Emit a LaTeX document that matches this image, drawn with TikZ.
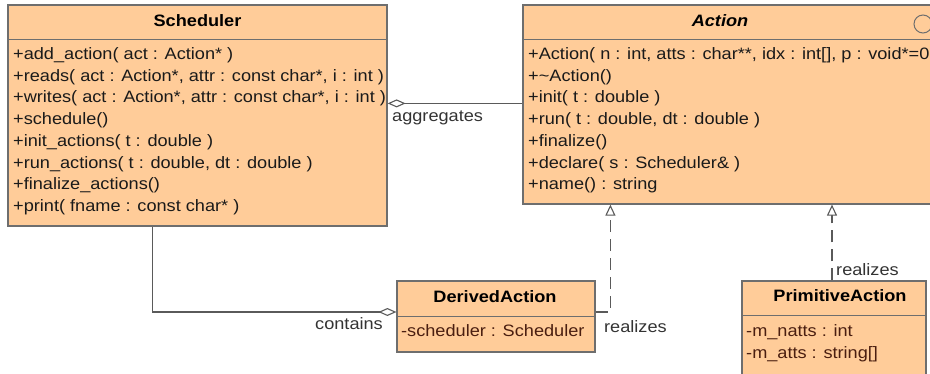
\documentclass[tikz,border=0pt]{standalone}
\usepackage{fontspec}
\setmainfont{Liberation Sans}[FakeStretch=1.1]
\usetikzlibrary{arrows.meta}
\definecolor{classfill}{HTML}{FFCC99}
\definecolor{classline}{HTML}{6E6E6E}
\definecolor{connline}{HTML}{5A5A5A}
\definecolor{optext}{HTML}{1A1A1A}
\definecolor{attrtext}{HTML}{4A1E10}
\definecolor{labeltext}{HTML}{333333}
\begin{document}
\begin{tikzpicture}[x=1pt,y=-1pt,
  classbox/.style={draw=classline, fill=classfill, line width=1.2pt, inner sep=0pt},
  divider/.style={draw=classline, line width=1.2pt},
  basefont/.style={font=\fontsize{16.5}{20}\selectfont},
  titletext/.style={basefont, font=\fontsize{16.5}{20}\selectfont\bfseries, text=black, anchor=base, inner sep=0pt},
  optxt/.style={basefont, text=optext, anchor=base west, inner sep=0pt},
  attrtxt/.style={basefont, text=attrtext, anchor=base west, inner sep=0pt},
  lbl/.style={basefont, text=labeltext, anchor=base west, inner sep=0pt},
  conn/.style={draw=connline, line width=1.1pt},
  aggtip/.style={-{Diamond[open, length=18pt, width=8pt, line width=1.1pt]}},
  realtip/.style={-{Triangle[open, length=11pt, width=10pt, line width=1.1pt, fill=white]}},
  realline/.style={conn, dash pattern=on 12pt off 7pt, realtip}
]
\useasboundingbox (0,0) rectangle (930,373);

% class boxes
\node[classbox, minimum width=379pt, minimum height=221pt] (sched) at (197.5,115.5) {};
\node[classbox, minimum width=417pt, minimum height=199pt] (action) at (731.5,104.5) {};
\node[classbox, minimum width=198pt, minimum height=71pt] (derived) at (496,316.5) {};
\node[classbox, minimum width=184pt, minimum height=114pt] (prim) at (834,338) {};

% compartment dividers
\draw[divider] ([yshift=-35pt]sched.north west) -- ([yshift=-35pt]sched.north east);
\draw[divider] ([yshift=-35pt]action.north west) -- ([yshift=-35pt]action.north east);
\draw[divider] ([yshift=-36pt]derived.north west) -- ([yshift=-36pt]derived.north east);
\draw[divider] ([yshift=-35pt]prim.north west) -- ([yshift=-35pt]prim.north east);

% interface icon
\node[draw=classline, circle, minimum size=18pt, line width=1pt, inner sep=0pt] (icon) at (923,24) {};

% titles
\node[titletext] (schedT) at (197.5,26) {Scheduler};
\node[titletext, font=\fontsize{16.5}{20}\selectfont\bfseries\itshape] (actionT) at (720,26) {Action};
\node[titletext] (derivedT) at (495,302) {DerivedAction};
\node[titletext] (primT) at (840,301) {PrimitiveAction};

% Scheduler operations
\foreach \t [count=\i] in {
  {+add\_action( act : Action* )},
  {+reads( act : Action*, attr : const char*, i : int )},
  {+writes( act : Action*, attr : const char*, i : int )},
  {+schedule()},
  {+init\_actions( t : double )},
  {+run\_actions( t : double, dt : double )},
  {+finalize\_actions()},
  {+print( fname : const char* )}}
  \node[optxt] (sop\i) at (13,{59.5+21.7*(\i-1)}) {\t};

% Action operations
\foreach \t [count=\i] in {
  {+Action( n : int, atts : char**, idx : int[], p : void*=0 )},
  {+\textasciitilde Action()},
  {+init( t : double )},
  {+run( t : double, dt : double )},
  {+finalize()},
  {+declare( s : Scheduler\& )},
  {+name() : string}}
  \node[optxt] (aop\i) at (528,{59.5+21.7*(\i-1)}) {\t};

% attributes
\node[attrtxt] (dat1) at (401,336.5) {-scheduler : Scheduler};
\node[attrtxt] (pat1) at (746,336.5) {-m\_natts : int};
\node[attrtxt] (pat2) at (746,358) {-m\_atts : string[]};

% connectors
\draw[conn, aggtip] ([yshift=-99pt]action.north west) -- ([yshift=-99pt]sched.north east);
\draw[conn, aggtip] ([xshift=145pt]sched.south west) |- ([yshift=4.5pt]derived.west);
\draw[realline] ([yshift=4.5pt]derived.east) -| ([xshift=88pt]action.south west);
\coordinate (primtop) at ([xshift=-2pt]prim.north);
\draw[realline] (primtop) -- (primtop |- action.south);

% connector labels
\node[lbl] (aggL) at (392,121.5) {aggregates};
\node[lbl, anchor=base east] (conL) at (383,329) {contains};
\node[lbl] (real1L) at (604,332) {realizes};
\node[lbl] (real2L) at (836,275) {realizes};
\end{tikzpicture}
\end{document}
